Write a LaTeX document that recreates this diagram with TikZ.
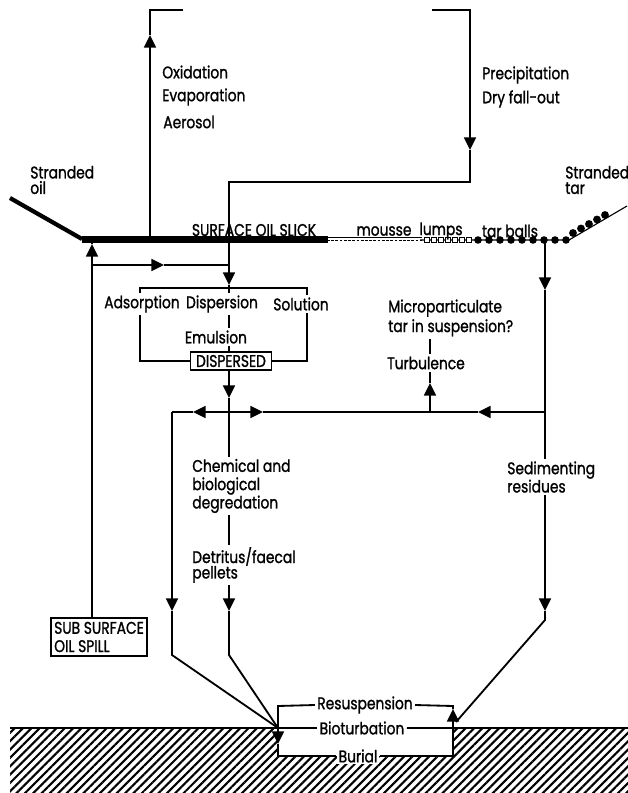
\documentclass[tikz,border=0pt]{standalone}
\usepackage{fontspec}
\setmainfont{Poppins}[FakeStretch=0.82, FakeBold=1.2]
\usetikzlibrary{arrows.meta,patterns.meta}

\begin{document}
\begin{tikzpicture}[x=0.025cm, y=-0.025cm, line width=1.3pt]
\tikzset{texte/.style={inner sep=1pt, font=\fontsize{12}{13}\selectfont},
  gauche/.style={texte, anchor=west, align=left},
  cadre/.style={texte, draw, inner xsep=4pt, inner ysep=2pt},
  fleche/.style={-{Triangle[length=9pt,width=8.5pt]}}}
\useasboundingbox (0,0) rectangle (628,793);

% fond marin
\fill[pattern={Lines[angle=45,distance=4.2pt,line width=1.5pt]}, even odd rule]
  (10,728) rectangle (628,793) (278,728) rectangle (453,756);

% rivage et surface
\draw[line width=3pt] (10,198) -- (82,239);
\draw[line width=4.5pt] (82,239.5) -- (328,239.5);
\draw[line width=0.6pt] (327,237) -- (422,237);
\draw[line width=0.6pt, dash pattern=on 2pt off 1pt] (327,240.5) -- (422,240.5);
\draw[line width=0.8pt] (420,240) -- (569,240) -- (627,206);
\foreach \x in {424,431,...,468}
  \draw[line width=0.7pt, fill=white] (\x,237) rectangle +(5,5);
\foreach \x in {478,489,...,566}
  \fill (\x,240) circle (2.7pt);
\foreach \x/\y in {573/233, 581/228.5, 589/224, 597/219.5, 605/215}
  \fill (\x,\y) circle (2.8pt);

% textes
\node[gauche] (oxyd) at (160,72) {Oxidation};
\node[gauche] (evap) at (160,97) {Evaporation};
\node[gauche] (aero) at (161,122) {Aerosol};
\node[gauche] (precip) at (480,75) {Precipitation};
\node[gauche] (retomb) at (480,99) {Dry fall-out};
\node[gauche, font=\fontsize{12}{11}\selectfont] (echoil) at (28,180) {Stranded\\oil};
\node[gauche, font=\fontsize{12}{11}\selectfont] (echtar) at (563,180) {Stranded\\tar};
\node[texte] (nappe) at (254,230) {SURFACE OIL SLICK};
\node[texte] (mousse) at (384,231) {mousse};
\node[texte] (grumeaux) at (441,231) {lumps};
\node[texte] (boulettes) at (510,231) {tar balls};
\node[texte] (adsorp) at (142,304) {Adsorption};
\node[texte] (dispers) at (222,304) {Dispersion};
\node[texte] (solut) at (301,304) {Solution};
\node[texte] (emuls) at (216,337) {Emulsion};
\node[cadre] (disperse) at (231,361) {DISPERSED};
\node[gauche, font=\fontsize{12}{14}\selectfont] (microp) at (386,318) {Microparticulate\\tar in suspension?};
\node[texte] (turbul) at (426,363) {Turbulence};
\node[gauche] (chimie) at (190,486) {Chemical and\\biological\\degredation};
\node[gauche, font=\fontsize{12}{11}\selectfont] (detritus) at (190,565) {Detritus/faecal\\pellets};
\node[gauche] (sedim) at (505,477) {Sedimenting\\residues};
\node[cadre, align=left, inner xsep=2pt, inner ysep=3pt] (sousmarin) at (99,637) {SUB SURFACE\\OIL SPILL};
\node[texte] (resusp) at (365,705) {Resuspension};
\node[texte] (biotur) at (362,728) {Bioturbation};
\node[texte, fill=white] (enfouis) at (358,756) {Burial};

% points de passage
\coordinate (piedG) at (150,239);
\coordinate (tipG) at (150,35);
\coordinate (cimeG) at (150,10);
\coordinate (finG) at (183,10);
\coordinate (debD) at (432,10);
\coordinate (cimeD) at (470,10);
\coordinate (tipD) at (470,150);
\coordinate (coudeD) at (470,182);
\coordinate (coudeC) at (229,182);
\coordinate (nappeC) at (229,239);
\coordinate (montee) at (92,239);
\coordinate (tipS) at (92,244);
\coordinate (embr) at (92,265);
\coordinate (tipE) at (164,265);
\coordinate (jonc) at (229,265);
\coordinate (tipB) at (229,285);
\coordinate (haut) at (229,288);
\coordinate (hautG) at (140,288);
\coordinate (hautD) at (307,288);
\coordinate (tipC) at (229,398);
\coordinate (croix) at (229,412);
\coordinate (gauche412) at (172,412);
\coordinate (tipH1) at (193,412);
\coordinate (tipH2) at (263,412);
\coordinate (turbpied) at (430,412);
\coordinate (tipH3) at (478,412);
\coordinate (droite412) at (545,412);
\coordinate (tipT) at (430,383);
\coordinate (nappeD) at (545,240);
\coordinate (tipR) at (545,290);
\coordinate (tipL) at (172,611);
\coordinate (coudeL) at (172,655);
\coordinate (tipCb) at (229,611);
\coordinate (coudeCb) at (229,655);
\coordinate (tipRb) at (545,611);
\coordinate (coudeR) at (545,620);
\coordinate (fond) at (278,728);
\coordinate (fondD) at (456,722);
\coordinate (bhG) at (278,706);
\coordinate (bhD) at (453,706);
\coordinate (bbG) at (278,756);
\coordinate (bbD) at (453,756);
\coordinate (tipBG) at (278,744);
\coordinate (tipBD) at (453,709);
\coordinate (rivG) at (10,728);
\coordinate (rivD) at (628,728);

% atmosphere
\draw[fleche] (piedG) -- (tipG);
\draw (tipG) -- (cimeG) -- (finG);
\draw[fleche] (debD) -- (cimeD) -- (tipD);
\draw (tipD) -- (coudeD) -- (coudeC) -- (nappeC);

% sous la surface
\draw[fleche] (sousmarin.north -| montee) -- (tipS);
\draw (tipS) -- (montee);
\draw[fleche] (embr) -- (tipE);
\draw (tipE) -- (jonc);
\draw[fleche] (nappeC) -- (tipB);
\draw (tipB) -- (haut);

% dispersion
\draw (adsorp.north -| hautG) -- (hautG) -- (hautD) -- (solut.north -| hautD);
\draw (adsorp.south -| hautG) |- (disperse.west);
\draw (solut.south -| hautD) |- (disperse.east);
\draw (haut) -- (dispers.north -| haut);
\draw (dispers.south -| haut) -- (emuls.north -| haut);
\draw (emuls.south -| haut) -- (disperse.north -| haut);
\draw[fleche] (disperse.south -| haut) -- (tipC);
\draw (tipC) -- (croix) -- (chimie.north -| croix);
\draw (chimie.south -| croix) -- (detritus.north -| croix);
\draw[fleche] (detritus.south -| croix) -- (tipCb);
\draw (tipCb) -- (coudeCb) -- (fond);

% ligne horizontale
\draw[fleche] (croix) -- (tipH1);
\draw (tipH1) -- (gauche412);
\draw[fleche] (croix) -- (tipH2);
\draw (tipH2) -- (turbpied);
\draw[fleche] (droite412) -- (tipH3);
\draw (tipH3) -- (turbpied);
\draw[fleche] (turbpied) -- (tipT);
\draw (tipT) -- (turbul.south -| turbpied);
\draw (turbul.north -| turbpied) -- (microp.south -| turbpied);
\draw[fleche] (gauche412) -- (tipL);
\draw (tipL) -- (coudeL) -- (fond);

% sedimentation
\draw[fleche] (nappeD) -- (tipR);
\draw (tipR) -- (droite412) -- (sedim.north -| droite412);
\draw[fleche] (sedim.south -| droite412) -- (tipRb);
\draw (tipRb) -- (coudeR) -- (fondD);

% fond
\draw (rivG) -- (biotur.west);
\draw (biotur.east) -- (rivD);
\draw (resusp.west) -- (bhG) -- (fond);
\draw[fleche] (fond) -- (tipBG);
\draw (tipBG) -- (bbG) -- (enfouis.west);
\draw (enfouis.east) -- (bbD);
\draw[fleche] (bbD) -- (tipBD);
\draw (tipBD) -- (bhD) -- (resusp.east);
\end{tikzpicture}
\end{document}
